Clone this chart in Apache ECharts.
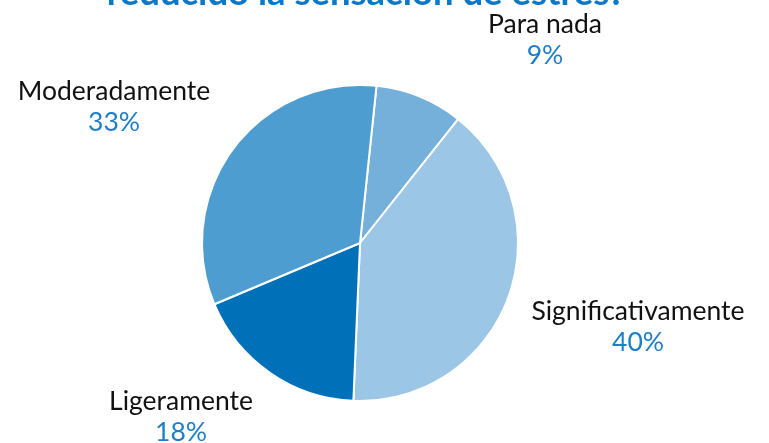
<!DOCTYPE html>
<html>
<head>
<meta charset="utf-8">
<script src="https://cdn.jsdelivr.net/npm/echarts@6/dist/echarts.min.js"></script>
<style>
  html, body { margin: 0; padding: 0; background: #fff; }
  #chart { width: 769px; height: 443px; }
</style>
</head>
<body>
<div id="chart"></div>
<script>
// data
const categories = ['Para nada', 'Significativamente', 'Ligeramente', 'Moderadamente'];
const percents = [9, 40, 18, 33];
const sliceColors = ['#74b0da', '#9cc6e5', '#0070b9', '#4e9dd0'];
const titleText = 'reducido la sensación de estrés?';

// label anchor points (centre of the two-line label)
const labelAnchors = [[545, 40], [638, 327], [181, 417], [114, 107]];

const chart = echarts.init(document.getElementById('chart'));

chart.setOption({
  animation: false,
  title: {
    text: titleText,
    left: 361,
    textAlign: 'center',
    top: -30,
    textStyle: { fontFamily: 'Lato', fontWeight: 'bold', fontSize: 36.5, color: '#0a78c8' }
  },
  series: [{
    type: 'pie',
    center: [360, 243],
    radius: 158,
    startAngle: 84,
    clockwise: true,
    data: categories.map((name, i) => ({
      name: name,
      value: percents[i],
      itemStyle: { color: sliceColors[i] }
    })),
    itemStyle: { borderColor: '#fff', borderWidth: 2 },
    label: {
      show: true,
      position: 'outside',
      overflow: 'none',
      width: 300,
      formatter: '{n|{b}}\n{p|{c}%}',
      rich: {
        n: { fontFamily: 'Lato', fontSize: 26.5, color: '#111', lineHeight: 31, align: 'center' },
        p: { fontFamily: 'Lato', fontSize: 26.5, color: '#1f7fc6', lineHeight: 31, align: 'center' }
      }
    },
    labelLine: { show: false },
    labelLayout: function (p) {
      const a = labelAnchors[p.dataIndex];
      return { x: a[0], y: a[1], align: 'center', verticalAlign: 'middle' };
    }
  }]
});
</script>
</body>
</html>
